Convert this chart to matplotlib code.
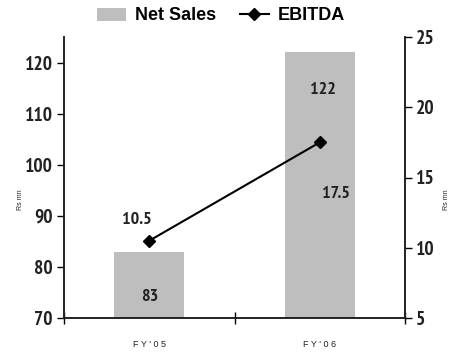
import matplotlib
matplotlib.use("Agg")
import matplotlib.pyplot as plt
from matplotlib.lines import Line2D
from matplotlib.patches import Patch

categories = ["F Y ' 0 5", "F Y ' 0 6"]
net_sales = [83, 122]
ebitda = [10.5, 17.5]
left_ticks = [70, 80, 90, 100, 110, 120]
right_ticks = [5, 10, 15, 20, 25]

plt.rcParams['font.family'] = ['Liberation Sans', 'DejaVu Sans']
NARROW = ['PT Sans Narrow', 'Liberation Sans', 'DejaVu Sans']
TXT = '#222222'

W, H = 451, 352
fig = plt.figure(figsize=(W / 100, H / 100), dpi=100)
ax = fig.add_axes([64 / W, 34 / H, (405 - 64) / W, (318 - 37) / H])
ax2 = ax.twinx()

x = list(range(len(categories)))
ax.bar(x, net_sales, width=0.41, color='#bebebe', zorder=1)
ax.set_xlim(-0.5, 1.5)
ax.set_ylim(70, 125)
ax.set_yticks(left_ticks)
ax.set_yticklabels([str(t) for t in left_ticks], fontsize=14, fontweight='bold', color=TXT, family=NARROW)
ax.tick_params(axis='y', direction='out', length=5, width=1, pad=3)
ax.set_xticks(x)
ax.set_xticklabels(categories, fontsize=6.5, color=TXT)
ax.tick_params(axis='x', length=0, pad=16)
ax.set_xticks([-0.5, 0.5, 1.5], minor=True)
ax.tick_params(axis='x', which='minor', direction='inout', length=9, width=1)

ax2.plot(x, ebitda, color='black', lw=1.5, marker='D', markersize=6.5, zorder=3)
ax2.set_ylim(5, 25)
ax2.set_yticks(right_ticks)
ax2.set_yticklabels([str(t) for t in right_ticks], fontsize=14, fontweight='bold', color=TXT, family=NARROW)
ax2.tick_params(axis='y', direction='out', length=5, width=1, pad=3)

for a in (ax, ax2):
    a.spines['top'].set_visible(False)
    for s in ('left', 'right', 'bottom'):
        a.spines[s].set_linewidth(1.2)
        a.spines[s].set_color(TXT)
ax.set_zorder(ax2.get_zorder() - 1)
ax2.patch.set_visible(False)
ax.patch.set_visible(False)

lab = dict(textcoords='offset points', ha='center', va='center', fontsize=13,
           fontweight='bold', color=TXT, family=NARROW)
ax.annotate(str(net_sales[0]), (x[0], net_sales[0]), xytext=(0, -33), **lab)
ax.annotate(str(net_sales[1]), (x[1], net_sales[1]), xytext=(2, -27), **lab)
ax2.annotate(str(ebitda[0]), (x[0], ebitda[0]), xytext=(-9, 15), **lab)
ax2.annotate(str(ebitda[1]), (x[1], ebitda[1]), xytext=(12, -37), **lab)

fig.text(20 / W, 1 - 200 / H, "Rs mn", rotation=90, fontsize=5, ha='center', va='center', color=TXT)
fig.text(447 / W, 1 - 200 / H, "Rs mn", rotation=90, fontsize=5, ha='center', va='center', color=TXT)

handles = [Patch(facecolor='#bebebe', edgecolor='none'),
           Line2D([], [], color='black', lw=1.5, marker='D', markersize=6)]
fig.legend(handles, ["Net Sales", "EBITDA"], loc='center', bbox_to_anchor=(221 / W, 1 - 16 / H),
           ncol=2, frameon=False, prop={'size': 13, 'weight': 'bold'}, handlelength=1.6,
           columnspacing=1.3, handletextpad=0.5, borderaxespad=0)

fig.savefig("out.png", dpi=100)
